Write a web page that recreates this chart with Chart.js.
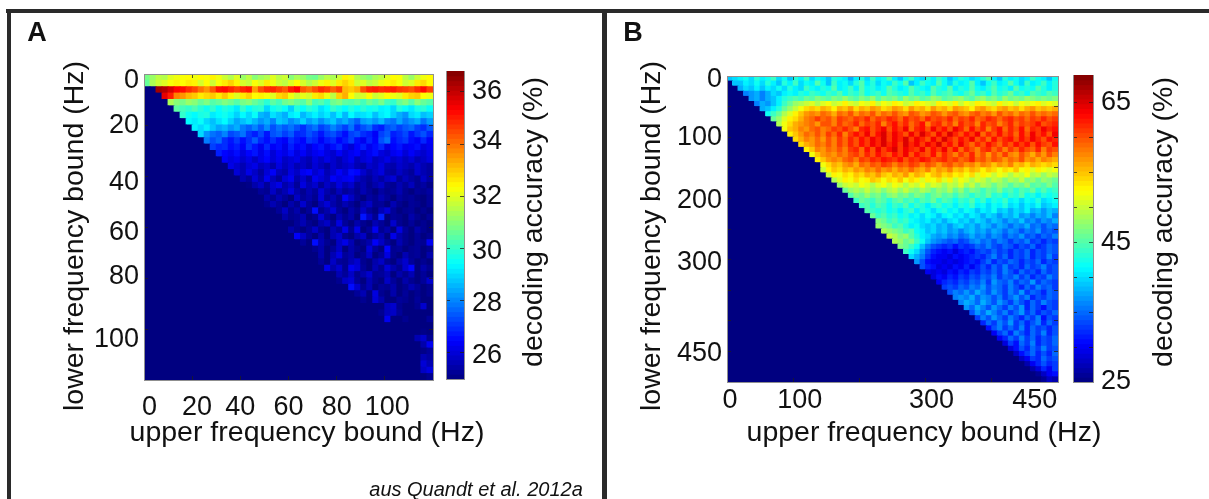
<!DOCTYPE html>
<html>
<head>
<meta charset="utf-8">
<title>decoding accuracy</title>
<script src="https://cdn.jsdelivr.net/npm/chart.js@4"></script>
<style>
  html, body { margin: 0; background: #fff; }
  #page { position: relative; width: 1209px; height: 499px; overflow: hidden; }
  canvas { position: absolute; left: 0; top: 0; }
  .rule { position: absolute; background: #2a2a2a; }
</style>
</head>
<body>
<div id="page">
  <div class="rule" style="left:6px;top:9px;width:1203px;height:4px"></div>
  <div class="rule" style="left:7px;top:9px;width:4px;height:490px"></div>
  <div class="rule" style="left:602px;top:9px;width:5px;height:490px"></div>
  <canvas id="heatA" width="1209" height="499"></canvas>
  <canvas id="barA" width="1209" height="499"></canvas>
  <canvas id="heatB" width="1209" height="499"></canvas>
  <canvas id="barB" width="1209" height="499"></canvas>
</div>
<script>
// panel A: 48 x 48 cells, 2.5 Hz each. rows are right aligned, missing cells on the left are at the floor value
var rowsA = [
[30.8,31.2,31.6,31.5,32.0,32.2,32.3,32.4,32.2,32.4,32.3,32.5,32.2,31.8,31.5,32.0,31.2,31.6,31.0,31.3,31.5,32.0,31.6,31.8,31.0,31.4,31.2,30.8,30.7,31.2,31.6,31.4,31.8,32.5,32.2,31.5,31.2,31.0,31.4,31.6,32.0,32.4,32.3,31.6,31.2,31.8,32.2,32.4],
[30.6,31.4,31.8,32.0,32.3,32.5,32.4,32.6,32.5,31.9,32.4,31.8,32.3,32.6,32.9,32.5,31.9,31.7,32.3,32.0,32.6,32.2,31.8,31.6,32.0,32.4,31.9,31.5,31.8,32.2,32.5,32.0,32.6,32.9,32.6,31.8,32.0,31.6,31.8,32.2,32.4,32.6,32.3,31.8,32.0,32.6,32.8,32.4],
[36.4,36.2,35.8,35.3,35.2,34.8,34.5,34.0,33.6,34.3,35.1,35.2,34.9,34.6,34.9,35.1,33.5,34.4,34.8,34.9,34.6,34.3,35.0,35.3,34.3,34.0,34.4,34.8,34.6,34.2,34.6,33.2,33.0,33.3,34.4,34.9,35.0,34.8,34.9,35.0,34.7,34.6,34.4,34.8,35.2,34.6],
[35.6,35.0,33.8,33.6,33.2,33.0,32.6,32.8,33.0,32.6,33.0,32.5,32.0,32.6,32.9,32.4,32.5,32.3,32.0,32.8,33.0,32.2,31.8,32.1,31.9,32.6,32.8,32.2,31.6,32.9,33.3,32.4,31.8,31.9,32.4,31.8,32.0,32.4,32.2,32.0,32.6,32.9,33.0,32.4,32.2],
[31.4,31.0,30.8,31.2,31.0,30.6,30.9,30.4,30.6,30.9,30.7,30.4,30.8,31.0,30.6,30.3,29.9,30.5,30.2,30.7,30.9,30.6,30.4,31.0,30.2,30.4,30.0,30.7,30.9,30.5,30.4,30.6,30.2,30.7,30.4,30.8,30.2,30.0,30.6,30.9,30.4,31.0,30.6,30.4],
[30.5,30.2,30.0,30.3,29.9,29.6,30.0,29.5,29.8,29.6,29.2,30.0,29.5,29.8,29.9,29.0,29.6,29.8,29.5,28.9,29.8,29.5,29.9,29.7,29.1,29.4,30.0,29.7,29.4,29.8,29.5,29.9,29.6,29.7,29.3,29.4,29.0,29.8,29.5,29.2,29.7,29.9,29.5],
[30.0,29.6,29.4,29.7,29.8,29.2,29.4,29.6,29.3,28.9,29.4,29.0,29.5,28.6,28.4,29.1,28.8,28.5,29.2,29.4,28.6,29.0,29.3,28.9,29.2,28.7,29.3,28.6,29.4,29.0,29.1,29.3,28.7,29.2,29.4,28.9,28.5,28.2,29.0,29.2,28.7,28.9],
[29.4,29.2,29.5,29.0,28.7,29.1,29.4,28.9,28.4,28.7,29.0,28.6,28.2,28.5,28.0,28.8,28.6,28.1,28.4,28.9,28.3,28.6,28.1,28.5,28.8,28.2,28.5,28.0,27.6,28.3,28.5,28.2,28.6,28.0,27.8,28.4,27.9,28.2,28.5,27.8,28.3],
[29.3,29.0,29.3,28.8,28.4,28.6,28.2,28.5,27.9,27.6,28.0,27.5,28.1,27.4,27.8,27.5,27.8,27.4,27.0,27.5,27.8,27.2,27.5,28.0,27.6,27.2,27.8,27.0,27.4,27.7,27.0,26.8,27.4,27.6,27.2,27.5,27.7,27.2,27.0,27.5],
[29.0,28.2,27.8,27.6,28.0,27.3,27.5,27.8,27.1,26.8,27.3,26.7,27.4,27.6,27.2,27.5,26.9,27.0,27.4,27.1,26.7,27.2,27.4,27.0,26.6,27.2,27.4,27.0,26.8,26.4,27.2,27.5,26.8,27.0,27.3,26.7,27.1,27.4,26.9],
[27.9,27.4,27.7,27.0,26.7,27.1,26.6,27.0,27.5,26.9,26.6,27.0,26.6,26.4,27.0,26.7,26.5,27.1,26.9,26.4,26.8,27.0,26.5,26.8,27.2,26.6,26.3,26.9,26.5,27.4,27.8,26.6,26.9,27.1,26.6,26.4,26.9,26.4],
[27.2,26.9,27.0,26.6,26.8,26.4,27.1,26.7,26.3,26.9,26.4,26.6,26.2,26.8,26.4,26.6,26.1,26.5,26.7,26.2,26.6,26.9,26.3,26.0,26.5,26.8,26.3,26.6,26.9,26.2,26.5,26.7,26.3,26.4,26.6,26.1,26.3],
[26.8,26.5,26.3,26.6,26.1,26.5,26.7,26.2,26.6,26.0,26.4,26.2,26.6,26.1,26.4,26.0,26.3,26.5,26.1,25.9,26.4,26.0,26.3,26.5,26.0,26.3,26.6,26.1,25.9,26.3,26.5,26.0,26.4,26.1,25.9,26.2],
[26.4,26.1,26.3,25.9,26.2,25.8,26.2,26.5,26.0,26.3,25.8,26.0,26.2,25.8,25.6,26.1,25.8,26.2,25.9,25.6,26.0,26.3,25.7,26.0,26.2,25.7,25.9,26.2,25.8,26.0,25.7,26.0,25.6,25.8,26.1],
[26.2,25.9,25.6,26.0,26.2,25.7,25.9,25.5,26.1,25.7,26.0,25.6,25.8,25.5,26.0,25.7,25.4,25.9,25.6,25.8,26.0,25.6,25.4,25.9,25.7,26.1,25.6,25.5,25.9,25.7,25.5,25.9,25.6,25.4],
[26.0,25.6,26.2,25.8,25.4,26.0,26.4,25.7,25.5,26.1,25.8,26.3,26.5,25.9,26.2,25.6,25.9,26.4,26.0,26.6,26.5,25.9,25.5,25.8,26.1,25.5,25.4,25.8,25.5,25.3,25.9,25.6,25.4],
[25.6,25.3,26.0,25.5,26.3,25.7,25.3,26.0,26.3,25.5,25.9,25.4,26.3,26.0,25.7,26.4,26.1,26.3,26.4,25.8,25.5,25.3,25.7,25.4,25.8,26.0,25.3,25.7,25.4,25.2,25.8,25.4],
[25.1,25.5,25.8,25.3,25.9,26.2,25.5,25.8,25.3,26.1,25.6,25.9,25.3,25.8,25.5,26.1,25.6,25.9,25.3,25.6,25.2,25.5,25.8,25.3,25.2,25.6,25.3,25.7,25.2,25.4,25.1],
[25,25.3,25.2,25.8,25.3,25.6,26.1,25.5,25.2,25.6,25.3,26.0,25.5,25.2,25.7,25.3,25.5,25.2,25.6,25.3,25,25.4,25.2,25.3,25.6,25.2,25,25.3,25.2,25.4],
[25,25.5,25.2,25.6,25.3,25,25.8,25.3,25.5,25.2,26.0,25.3,25.6,25.2,26.4,25.8,25.3,25,25.4,25.2,25.6,25.3,25,25.4,25.2,25.3,25.1,25,25.3],
[25.2,25.6,25.3,25,25.5,25.2,25.9,25.3,25,25.6,26.0,25.5,25.2,25.6,25.3,25,25.5,25.8,25.2,25.3,25,25.6,25.2,25,25.3,25.2,25,25.3],
[25,25.3,25.8,25.2,25.5,25,25.3,26.6,25.2,25.5,26.0,25.3,25,25.5,25.2,25.8,25.3,25,25.6,26.0,25.3,25,25.2,25.3,25,25.2,25],
[25,25.5,25.2,25.3,25.6,25,25.2,26.0,25.3,25,25.6,25.2,25.5,25,26.7,25.8,25.2,26.8,25,25.3,25.2,25,25.5,25.2,25,25.3],
[25,25,25.3,25.6,25.2,25,25.5,25.8,25.2,26.1,25.3,25,25.5,25.2,25,25.6,25.3,25,25.9,25.2,25,25.3,25,25.2,25],
[25.5,25.2,25,25.3,25.8,25.2,25,25.6,25.3,26.2,25.2,26.2,25,25.3,26.3,25.2,25.5,25,26.1,25.3,25,25.5,25.2,25],
[26.4,25.8,25.3,25,25.5,25,25.6,25.9,25.2,25,25.5,25.8,25,25.3,25.6,25,26.2,25.5,25.2,25,25.3,25,25.2],
[25.3,25,26.6,25.6,25.2,25,25.8,26.2,25.6,25,25.2,25.5,26.4,25.8,25.3,25,25.6,25.2,25,25.3,25.2,26.3],
[25,25.2,25.5,25,25.3,25.8,25,25.5,25.2,25,26.0,25.3,25,26.5,25.2,25.3,25,25.2,25.3,25,25.2],
[25,25.5,25,25.6,26.1,25.3,25.5,25,25.2,25.8,25,25.3,26.1,25.2,25,25.6,25.2,25.3,25,25.5],
[25.3,25,25.8,25.3,25.2,25.6,25.9,25.2,25,25.5,25.8,25.2,25,25.5,25.9,25.3,25,25.2,25],
[26.2,25.5,25.9,25.2,26.3,26.0,25.3,25,25.6,25.2,26.0,25.5,25.2,25.9,26.5,25,25.5,25.2],
[25,25.6,25.3,25.8,25.2,25.5,25.9,25.2,25.3,25.6,25,25.5,25.2,25.6,25,25.3,25],
[25.2,25.8,26.0,25.3,25,25.6,25.2,25,25.8,25.3,25,25.5,25.2,25,25.3,25.9],
[25,26.6,25.9,25.2,25.6,25,25.3,25.2,25.5,25,25.2,25.6,25.3,25,25.2],
[25,25.3,25.6,25,26.1,25.2,25,25.5,25,25.3,25,25.2,25,25.2],
[25,25.2,25,26.0,25.5,25,25,25.3,25.2,25,25.3,25,25],
[25,25,25,25,25.7,25.9,25.2,25,25,25.2,25.9,25],
[25,25,25.2,25.7,25.8,25.3,25,25,25,25,25],
[25,25,26.3,25,25,25.2,25,25,25,25.3],
[25,25,25,25,25,25,25,25,25],
[25,25,25,25,25,25,25.1,25],
[25,25,25,25,25.6,25.9,25.2],
[25,25,25,25,25.5,26.3],
[25,25,25,25.1,25.3],
[25,25,25.6,25.4],
[25,26.0,25.6],
[25.8,26.1],
[25.2]
];

var rowsB = [
[39,40,41,42,40,43,41,42,44,40,42,39,43,41,44,40,42,41,39,43,42,41,38,41,43,40,44,41,42,45,41,39,42,44,41,40,43,41,44,42,39,41,43,42,40,41,43,45,41,39,43,41,42,40,41,44,42,41,39,42],
[39,39,41,40,42,40,43,41,39,43,41,44,40,42,41,45,42,39,44,41,42,40,43,45,41,43,40,42,41,44,42,45,39,41,44,42,41,45,42,40,43,41,42,45,41,39,42,44,41,42,45,42,40,44,41,42,44,41,43],
[38,40,39,41,39,41,40,42,40,43,41,40,44,42,41,43,42,45,41,42,44,41,45,42,43,41,42,45,43,41,42,45,43,42,41,45,43,42,45,41,43,42,45,42,41,43,45,42,43,41,45,42,43,42,45,43,41,43],
[36,37,38,36,38,40,39,41,42,41,43,42,44,43,42,44,43,45,42,44,43,45,42,43,44,42,45,44,43,42,45,43,44,42,45,43,44,45,43,42,44,46,43,44,42,45,43,44,46,43,44,42,45,44,43,45,44],
[37,38,36,38,39,41,43,44,45,44,46,45,47,46,45,47,46,48,46,45,47,46,48,45,47,46,47,45,48,46,47,45,46,48,47,45,46,47,48,46,45,47,48,46,47,45,48,46,47,46,48,47,46,47,46,47],
[36,38,37,39,41,44,46,48,49,50,51,49,51,52,50,51,53,51,50,52,51,53,50,52,51,53,52,50,51,53,52,51,50,53,52,51,53,50,52,51,53,52,51,50,53,51,52,50,52,51,52,53,51,52,51],
[38,39,41,43,46,48,50,52,54,55,54,56,55,53,56,55,57,54,56,55,57,56,54,55,57,56,54,57,55,56,54,57,55,56,54,57,56,55,53,56,57,55,54,56,57,55,56,54,56,57,55,56,55,56],
[42,44,46,49,51,53,55,57,58,57,59,58,56,59,58,60,57,59,58,60,57,59,58,60,58,57,60,59,57,58,60,59,57,59,60,58,57,59,60,58,59,57,60,58,59,57,59,58,60,58,59,58,59],
[46,48,51,53,54,56,58,59,61,59,60,58,61,60,59,61,60,62,59,61,60,62,61,59,62,60,61,59,62,60,61,60,62,59,61,60,62,59,60,62,61,59,61,62,60,61,59,61,60,62,60,61],
[49,52,54,56,57,58,59,57,60,60,58,61,59,60,62,59,61,60,62,58,61,63,60,62,59,61,63,58,61,62,59,61,58,62,60,61,58,62,60,61,58,60,62,59,61,60,61,63,60,61,62],
[52,55,56,58,57,59,60,58,59,61,60,62,60,58,62,63,60,62,64,60,63,61,64,59,62,63,60,64,61,63,60,64,62,59,63,60,62,58,61,63,59,62,60,63,59,62,61,64,62,63],
[53,55,57,59,58,60,58,61,59,62,58,61,63,61,64,60,63,65,61,64,62,60,64,61,65,62,60,64,61,65,62,60,63,61,64,59,62,60,63,60,62,59,63,60,64,61,63,60,64],
[54,56,58,57,59,57,60,58,61,59,62,60,63,61,64,62,65,61,64,62,65,61,64,62,60,64,61,65,62,60,63,61,64,60,62,59,63,60,62,63,60,63,61,64,62,60,63,62],
[54,56,57,59,58,60,58,61,59,62,60,63,61,64,62,65,62,64,61,65,62,64,61,64,62,65,61,63,60,64,61,59,62,60,63,61,59,62,60,63,61,63,60,63,61,60,63],
[53,55,58,57,59,58,60,58,61,62,59,63,60,64,61,63,65,61,64,62,61,64,60,63,61,64,60,63,59,62,60,58,61,62,59,61,58,61,59,62,60,59,62,58,61,60],
[52,55,57,58,57,59,58,60,61,59,62,60,63,61,60,63,61,64,60,63,61,60,63,59,62,60,58,61,59,62,58,60,57,60,58,61,58,57,60,58,56,59,57,60,58],
[53,55,57,58,57,59,60,58,61,60,62,61,63,62,61,63,60,62,61,63,62,60,61,62,60,61,59,60,62,59,60,58,60,59,57,59,58,60,57,58,56,58,57,56],
[52,54,56,55,57,58,56,59,58,60,59,61,60,58,60,59,61,60,58,60,59,57,59,60,58,59,57,58,56,58,57,55,57,56,58,55,56,54,56,55,54,55,54],
[50,53,55,54,56,55,57,56,58,57,59,57,58,56,58,57,59,57,56,58,55,57,56,58,55,56,54,56,55,53,55,54,52,54,53,55,52,53,51,53,52,51,52],
[50,53,52,54,53,55,54,56,55,57,55,54,56,55,57,54,56,55,53,55,56,54,55,53,54,52,54,51,53,52,50,52,51,49,51,50,52,49,50,48,50,49],
[49,51,53,52,54,52,53,55,54,52,54,53,55,52,54,53,51,53,52,54,51,53,50,52,51,49,51,50,48,50,49,47,49,48,50,47,48,46,48,47,46],
[48,50,51,50,52,51,49,51,52,50,52,51,49,51,50,52,49,51,50,48,50,49,51,48,50,47,49,48,46,48,47,45,47,46,48,45,46,45,47,45],
[46,48,49,48,50,48,49,47,49,50,48,50,48,47,49,48,46,48,47,49,46,48,45,47,46,44,46,45,47,44,45,43,45,44,46,43,45,43,44],
[45,47,46,48,46,47,45,47,48,46,47,45,47,46,44,46,47,45,46,44,46,45,43,45,44,46,43,44,42,44,43,45,42,43,41,43,42,43],
[44,46,45,44,46,45,43,45,46,44,45,43,45,44,46,43,45,44,42,44,43,45,42,44,41,43,42,44,41,42,40,42,41,43,40,41,42],
[44,45,43,45,44,42,44,43,45,42,44,43,41,43,44,42,43,41,43,42,44,41,42,40,42,41,43,40,41,39,41,40,42,39,40,41],
[45,44,43,44,42,43,41,43,44,41,43,42,40,42,43,41,42,40,42,41,39,41,40,42,39,40,38,40,39,41,38,39,37,39,38],
[46,44,45,43,44,42,43,41,42,40,42,41,39,41,42,40,41,39,41,40,38,40,39,37,39,38,40,37,38,36,38,37,39,36],
[47,46,44,45,43,44,42,41,40,41,39,40,38,40,41,39,40,38,40,39,37,39,38,36,38,37,39,36,37,35,37,36,38],
[48,47,46,44,45,43,41,42,40,39,40,38,39,37,39,40,38,39,37,39,38,36,38,37,35,37,36,38,35,36,34,36,35],
[49,48,47,46,44,45,42,41,39,40,38,39,37,38,36,38,39,37,38,36,38,37,35,37,36,34,36,35,37,34,35,34],
[50,49,47,48,45,43,41,40,38,37,38,36,37,35,36,38,36,37,35,37,36,34,36,35,37,34,35,33,35,34,36],
[49,48,46,47,44,42,39,37,36,35,34,35,33,34,36,37,35,36,34,36,35,33,35,34,36,33,34,32,34,33],
[47,46,44,42,39,36,34,33,32,33,31,33,32,33,35,34,36,34,33,35,34,32,34,33,35,32,33,35,34],
[44,42,40,37,34,32,31,30,31,29,31,32,31,33,34,33,35,33,34,32,34,33,35,32,34,33,35,34],
[40,38,36,33,31,30,30,29,31,30,31,32,33,32,34,36,33,35,32,34,33,35,32,34,33,36,33],
[37,34,31,30,30,29,30,29,30,31,32,31,33,35,32,34,33,35,34,32,34,33,35,32,34,33],
[34,32,31,29,30,29,31,30,32,30,32,34,32,35,33,36,33,34,32,35,33,34,36,33,34],
[30,29,30,29,31,30,32,31,33,32,34,33,35,33,36,34,32,35,33,34,32,35,33,34],
[29,31,30,32,31,33,32,34,33,35,34,36,33,35,34,36,33,35,32,34,33,36,34],
[30,32,33,32,34,33,35,34,36,33,37,35,34,36,33,35,34,37,33,35,34,33],
[33,34,33,35,34,36,35,37,34,36,35,33,36,34,32,35,33,36,34,35,33],
[34,36,35,37,35,38,36,34,37,35,33,36,34,37,33,35,34,32,35,34],
[36,37,36,38,35,37,36,34,36,33,35,37,34,36,32,34,33,35,34],
[36,38,37,35,38,36,34,37,35,33,36,34,32,35,33,36,34,33],
[37,35,38,36,34,37,35,33,36,34,37,32,35,33,31,34,33],
[34,37,35,38,36,34,36,33,35,37,33,35,32,34,33,35],
[33,36,34,37,35,33,36,34,32,35,33,36,31,34,33],
[32,35,33,36,34,37,33,35,32,34,36,32,35,33],
[31,34,36,33,35,33,36,32,35,33,34,32,34],
[30,33,35,32,36,34,32,35,33,36,32,34],
[30,32,35,33,36,33,35,32,34,33,35],
[29,33,31,35,33,36,32,34,33,35],
[29,31,34,32,35,33,36,33,34],
[28,31,33,35,32,34,32,35],
[28,30,33,32,35,33,34],
[27,30,32,34,32,33],
[27,29,32,30,33],
[26,28,30,31],
[26,28,27],
];

var xTicksA = [0, 20, 40, 60, 80, 100, 120];
var yTicksA = [0, 20, 40, 60, 80, 100];
var xTicksB = [0, 100, 200, 300, 400, 500];
var yTicksB = [0, 50, 100, 150, 200, 250, 300, 350, 400, 450, 500];
var cbarTicksA = [26, 28, 30, 32, 34, 36];
var cbarTicksB = [30, 35, 40, 45, 50, 55, 60, 65];

// printed labels sit a little off their tick marks in the original, so they get their own anchor values
var xLabelsA = ['0', '20', '40', '60', '80', '100'];
var xAnchorsA = [2.3, 22, 40, 60, 80, 101];
var yLabelsA = ['0', '20', '40', '60', '80', '100'];
var yAnchorsA = [2.7, 20.4, 42.7, 62, 79.6, 104];
var xLabelsB = ['0', '100', '300', '450'];
var xAnchorsB = [4.5, 110, 309, 465];
var yLabelsB = ['0', '100', '200', '300', '450'];
var yAnchorsB = [6.5, 101, 203, 304.7, 454];
var cbarLabelsA = ['26', '28', '30', '32', '34', '36'];
var cbarAnchorsA = [25.9, 27.9, 29.9, 32, 34.1, 36];
var cbarLabelsB = ['25', '45', '65'];
var cbarAnchorsB = [25, 45, 65];

var FONT = '"Liberation Sans", Arial, sans-serif';
var TICK_SIZE = 27;
var INK = '#111';
var LABEL_BOX = 100;   // room kept for the printed numbers, tick labels get clipped to their axis box

Chart.defaults.font.family = FONT;

function jet(t) {
    t = Math.max(0, Math.min(1, t));
    var ch = function(c) { return Math.round(255 * Math.max(0, Math.min(1, 1.5 - Math.abs(4 * t - c)))); };
    return 'rgb(' + ch(3) + ',' + ch(2) + ',' + ch(1) + ')';
}

// axis that only draws short inward tick marks and the box line
function markAxis(axis, position, min, max, vals, reverse) {
    return {
        type: 'linear', axis: axis, position: position, min: min, max: max, reverse: !!reverse, offset: false,
        afterBuildTicks: function(a) { a.ticks = vals.map(function(v) { return { value: v }; }); },
        afterFit: function(a) { if (axis === 'x') a.height = 0; else a.width = 0; },
        border: { display: true, color: '#8f8f8f', width: 1, z: 3 },
        grid: { offset: false, drawOnChartArea: false, drawTicks: true, tickLength: -4, color: 'rgba(30,30,30,0.75)', z: 2 },
        ticks: { display: false }
    };
}

// axis that only draws the printed numbers
function labelAxis(axis, position, min, max, anchors, labels, padding, reverse) {
    return {
        type: 'linear', axis: axis, position: position, min: min, max: max, reverse: !!reverse, offset: false,
        afterBuildTicks: function(a) { a.ticks = anchors.map(function(v) { return { value: v }; }); },
        afterFit: function(a) { if (axis === 'x') a.height = LABEL_BOX / 2; else a.width = LABEL_BOX; },
        border: { display: false },
        grid: { display: false, drawTicks: false, offset: false },
        ticks: {
            autoSkip: false, maxRotation: 0, minRotation: 0, padding: padding, color: INK,
            font: { size: TICK_SIZE },
            callback: function(v, i) { return labels[i]; }
        }
    };
}

var textPlugin = {
    id: 'pageText',
    afterDraw: function(chart) {
        var ctx = chart.ctx;
        (chart.options.plugins.pageText.items || []).forEach(function(it) {
            ctx.save();
            ctx.translate(it.x, it.y);
            ctx.rotate((it.rot || 0) * Math.PI / 180);
            ctx.font = it.font;
            ctx.fillStyle = INK;
            ctx.textAlign = 'center';
            ctx.textBaseline = 'middle';
            ctx.fillText(it.t, 0, 0);
            ctx.restore();
        });
    }
};

function heatmap(id, rect, rows, n, cfg) {
    var cells = [], colors = [];
    var dx = cfg.xMax / n, dy = cfg.yMax / n;
    for (var r = 0; r < n; r++) {
        var row = rows[r] || [];
        for (var c = 0; c < n; c++) {
            var v = row[c - (n - row.length)];
            if (v === undefined) v = cfg.lo;
            cells.push({ x: (c + 0.5) * dx, y: [r * dy, (r + 1) * dy] });
            colors.push(jet((v - cfg.lo) / (cfg.hi - cfg.lo)));
        }
    }
    return new Chart(document.getElementById(id), {
        type: 'bar',
        data: { datasets: [{
            data: cells, backgroundColor: colors, borderWidth: 0, inflateAmount: 0.5,
            barPercentage: 1, categoryPercentage: 1, xAxisID: 'x', yAxisID: 'y'
        }] },
        plugins: [textPlugin],
        options: {
            responsive: false, animation: false, events: [],
            layout: { padding: { left: rect.l - LABEL_BOX, top: rect.t, right: 1209 - rect.r, bottom: 499 - rect.b - LABEL_BOX / 2 } },
            plugins: { legend: { display: false }, tooltip: { enabled: false }, pageText: { items: cfg.texts } },
            scales: {
                x: markAxis('x', 'bottom', 0, cfg.xMax, cfg.xTicks),
                xTop: markAxis('x', 'top', 0, cfg.xMax, cfg.xTicks),
                y: markAxis('y', 'left', 0, cfg.yMax, cfg.yTicks, true),
                yRight: markAxis('y', 'right', 0, cfg.yMax, cfg.yTicks, true),
                xLab: labelAxis('x', 'bottom', 0, cfg.xMax, cfg.xAnchors, cfg.xLabels, cfg.xPad),
                yLab: labelAxis('y', 'left', 0, cfg.yMax, cfg.yAnchors, cfg.yLabels, 5, true)
            }
        }
    });
}

function colorbar(id, rect, lo, hi, ticks, anchors, labels, texts) {
    var cells = [], colors = [], steps = 64;
    for (var i = 0; i < steps; i++) {
        cells.push({ x: 'c', y: [lo + (hi - lo) * i / steps, lo + (hi - lo) * (i + 1) / steps] });
        colors.push(jet((i + 0.5) / steps));
    }
    return new Chart(document.getElementById(id), {
        type: 'bar',
        data: { labels: ['c'], datasets: [{
            data: cells, backgroundColor: colors, borderWidth: 0, inflateAmount: 0.5,
            barPercentage: 1, categoryPercentage: 1, xAxisID: 'x', yAxisID: 'y'
        }] },
        plugins: [textPlugin],
        options: {
            responsive: false, animation: false, events: [],
            layout: { padding: { left: rect.l, top: rect.t, right: 1209 - rect.r - LABEL_BOX, bottom: 499 - rect.b } },
            plugins: { legend: { display: false }, tooltip: { enabled: false }, pageText: { items: texts } },
            scales: {
                x: {
                    type: 'category', position: 'bottom', offset: true,
                    afterFit: function(a) { a.height = 0; },
                    grid: { display: false }, ticks: { display: false },
                    border: { display: true, color: '#8f8f8f' }
                },
                y: markAxis('y', 'left', lo, hi, ticks),
                yRight: markAxis('y', 'right', lo, hi, ticks),
                yLab: labelAxis('y', 'right', lo, hi, anchors, labels, 8)
            }
        }
    });
}

var titleFont = '28.5px ' + FONT;

heatmap('heatA', { l: 144, t: 74, r: 433, b: 380 }, rowsA, 48, {
    lo: 25, hi: 36.8, xMax: 120, yMax: 120,
    xTicks: xTicksA, yTicks: yTicksA,
    xAnchors: xAnchorsA, xLabels: xLabelsA, yAnchors: yAnchorsA, yLabels: yLabelsA, xPad: 11,
    texts: [
        { t: 'A', x: 37, y: 34, font: 'bold 27px ' + FONT },
        { t: 'lower frequency bound (Hz)', x: 75, y: 236, rot: -90, font: titleFont },
        { t: 'upper frequency bound (Hz)', x: 307, y: 433, font: titleFont },
        { t: 'aus Quandt et al. 2012a', x: 476, y: 490, font: 'italic 20px ' + FONT }
    ]
});

colorbar('barA', { l: 446, t: 71, r: 464, b: 379 }, 25, 36.8, cbarTicksA, cbarAnchorsA, cbarLabelsA, [
    { t: 'decoding accuracy (%)', x: 534, y: 222, rot: -90, font: titleFont }
]);

heatmap('heatB', { l: 727, t: 76, r: 1058, b: 382 }, rowsB, 60, {
    lo: 25, hi: 69, xMax: 500, yMax: 500,
    xTicks: xTicksB, yTicks: yTicksB,
    xAnchors: xAnchorsB, xLabels: xLabelsB, yAnchors: yAnchorsB, yLabels: yLabelsB, xPad: 2,
    texts: [
        { t: 'B', x: 633, y: 34, font: 'bold 27px ' + FONT },
        { t: 'lower frequency bound (Hz)', x: 652, y: 236, rot: -90, font: titleFont },
        { t: 'upper frequency bound (Hz)', x: 924, y: 433, font: titleFont }
    ]
});

colorbar('barB', { l: 1073, t: 75, r: 1093, b: 382 }, 25, 69, cbarTicksB, cbarAnchorsB, cbarLabelsB, [
    { t: 'decoding accuracy (%)', x: 1164, y: 222, rot: -90, font: titleFont }
]);
</script>
</body>
</html>
